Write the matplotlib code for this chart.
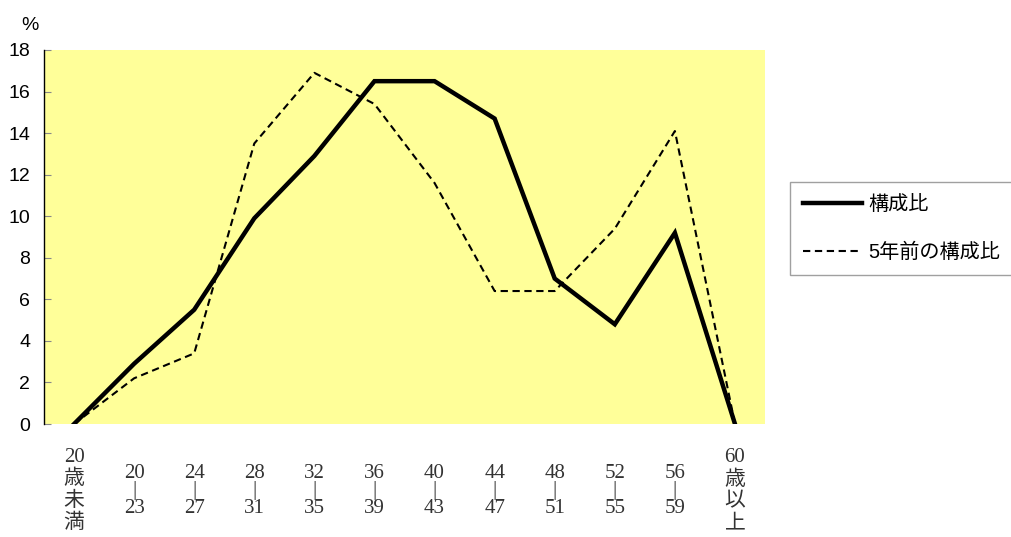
import numpy as np
import matplotlib as mpl
mpl.use('agg')
import matplotlib.pyplot as plt

plt.rcParams['font.family'] = ['Liberation Sans', 'Noto Sans CJK JP']

# data
age_labels = ['20\n歳\n未\n満', '20\n|\n23', '24\n|\n27', '28\n|\n31', '32\n|\n35',
              '36\n|\n39', '40\n|\n43', '44\n|\n47', '48\n|\n51', '52\n|\n55',
              '56\n|\n59', '60\n歳\n以\n上']
ratio_now  = [0, 2.9, 5.5, 9.9, 12.9, 16.5, 16.5, 14.7, 7.0, 4.8, 9.2, 0]
ratio_prev = [0, 2.2, 3.4, 13.5, 16.9, 15.4, 11.6, 6.4, 6.4, 9.4, 14.1, 0]
yticks = np.arange(0, 18.1, 2)

fig = plt.figure(figsize=(10.11, 5.37), dpi=100)
ax = fig.add_axes([0.0435, 0.2104, 0.7132, 0.6965])
ax.set_facecolor('#FFFF99')

x = np.arange(len(age_labels))
ax.plot(x, ratio_now, color='k', lw=3.2, solid_joinstyle='miter', label='構成比')
ax.plot(x, ratio_prev, color='k', lw=1.5, ls=(0, (3.5, 2.2)), label='5年前の構成比')

ax.set_xlim(-0.5, len(age_labels) - 0.5)
ax.set_ylim(0, 18)
ax.set_yticks(yticks)
ax.set_yticklabels([f'{v:.0f}' for v in yticks], fontsize=14)
ax.tick_params(axis='y', direction='in', length=5, color='#888888', pad=10)

ax.set_xticks(x)
ax.set_xticklabels(age_labels, family=['Liberation Serif', 'Noto Sans CJK JP'],
                   fontsize=15, color='#333333', linespacing=0.9)
ax.tick_params(axis='x', length=0, pad=48)
for t in ax.get_xticklabels():
    t.set_va('center')
    if '歳' in t.get_text():
        t.set_linespacing(1.2)

for s in ['top', 'right', 'bottom']:
    ax.spines[s].set_visible(False)
ax.spines['left'].set_color('k')
ax.spines['left'].set_linewidth(1.0)

fig.text(0.021, 0.945, '%', fontsize=14)

leg = fig.legend(loc='upper left', bbox_to_anchor=(0.781, 0.661), borderaxespad=0,
                 fontsize=14.5, handlelength=2.95, handletextpad=0.3, labelspacing=1.4,
                 borderpad=0.65, fancybox=False, frameon=True)
leg.get_frame().set_edgecolor('#888888')
leg.get_frame().set_linewidth(1.0)

plt.savefig('out.png', dpi=100, facecolor='w')
